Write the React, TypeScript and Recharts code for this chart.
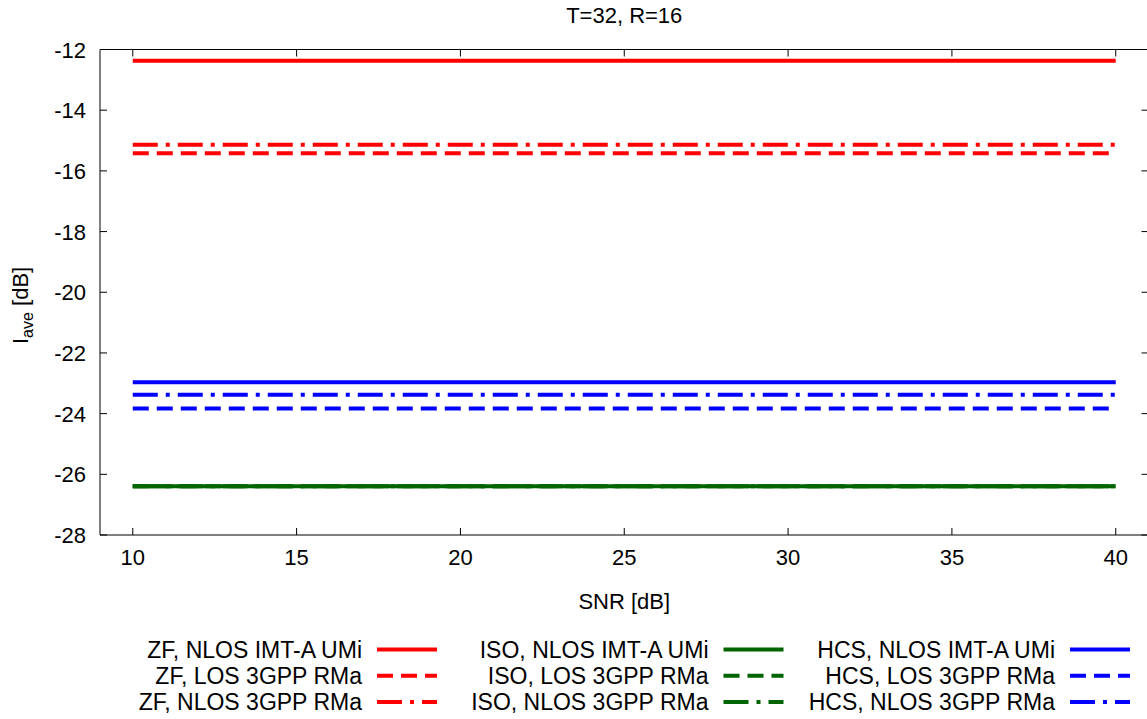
import { LineChart, Line, XAxis, YAxis, Label } from 'recharts'

const snr = [10, 15, 20, 25, 30, 35, 40]
const zfNlosUmi = [-12.37, -12.37, -12.37, -12.37, -12.37, -12.37, -12.37]
const zfLosRma = [-15.42, -15.42, -15.42, -15.42, -15.42, -15.42, -15.42]
const zfNlosRma = [-15.14, -15.14, -15.14, -15.14, -15.14, -15.14, -15.14]
const isoNlosUmi = [-26.39, -26.39, -26.39, -26.39, -26.39, -26.39, -26.39]
const isoLosRma = [-26.39, -26.39, -26.39, -26.39, -26.39, -26.39, -26.39]
const isoNlosRma = [-26.39, -26.39, -26.39, -26.39, -26.39, -26.39, -26.39]
const hcsNlosUmi = [-22.97, -22.97, -22.97, -22.97, -22.97, -22.97, -22.97]
const hcsLosRma = [-23.83, -23.83, -23.83, -23.83, -23.83, -23.83, -23.83]
const hcsNlosRma = [-23.38, -23.38, -23.38, -23.38, -23.38, -23.38, -23.38]

const xTicks = [10, 15, 20, 25, 30, 35, 40]
const yTicks = [-28, -26, -24, -22, -20, -18, -16, -14, -12]

const FONT = '"Liberation Sans", Arial, sans-serif'
const DASHED = '16 8'
const DASHDOT = '25 8 4 8'

const series = [
  { key: 'zfNlosUmi', name: 'ZF, NLOS IMT-A UMi', color: '#ff0000', dash: undefined, values: zfNlosUmi },
  { key: 'zfLosRma', name: 'ZF, LOS 3GPP RMa', color: '#ff0000', dash: DASHED, values: zfLosRma },
  { key: 'zfNlosRma', name: 'ZF, NLOS 3GPP RMa', color: '#ff0000', dash: DASHDOT, values: zfNlosRma },
  { key: 'isoNlosUmi', name: 'ISO, NLOS IMT-A UMi', color: '#006400', dash: undefined, values: isoNlosUmi },
  { key: 'isoLosRma', name: 'ISO, LOS 3GPP RMa', color: '#006400', dash: DASHED, values: isoLosRma },
  { key: 'isoNlosRma', name: 'ISO, NLOS 3GPP RMa', color: '#006400', dash: DASHDOT, values: isoNlosRma },
  { key: 'hcsNlosUmi', name: 'HCS, NLOS IMT-A UMi', color: '#0000ff', dash: undefined, values: hcsNlosUmi },
  { key: 'hcsLosRma', name: 'HCS, LOS 3GPP RMa', color: '#0000ff', dash: DASHED, values: hcsLosRma },
  { key: 'hcsNlosRma', name: 'HCS, NLOS 3GPP RMa', color: '#0000ff', dash: DASHDOT, values: hcsNlosRma },
]

const rows = snr.map((x, i) => {
  const row: Record<string, number> = { snr: x }
  series.forEach((s) => { row[s.key] = s.values[i] })
  return row
})

// gnuplot style: ticks point inward, labels outside
function BottomTick({ x, y, payload }: any) {
  return (
    <g>
      <line x1={x} y1={y} x2={x} y2={y - 7} stroke="#000" />
      <text x={x} y={y + 30} textAnchor="middle" fontSize={22} fill="#000">{payload.value}</text>
    </g>
  )
}
function TopTick({ x, y }: any) {
  return <line x1={x} y1={y} x2={x} y2={y + 7} stroke="#000" />
}
function LeftTick({ x, y, payload }: any) {
  return (
    <g>
      <line x1={x} y1={y} x2={x + 7} y2={y} stroke="#000" />
      <text x={x - 14} y={y + 8} textAnchor="end" fontSize={22} fill="#000">{payload.value}</text>
    </g>
  )
}
function RightTick({ x, y }: any) {
  return <line x1={x} y1={y} x2={x - 7} y2={y} stroke="#000" />
}

export default function App() {
  return (
    <div style={{ position: 'absolute', left: 0, top: 0, width: 1147, height: 719, overflow: 'hidden', background: '#fff', fontFamily: FONT }}>
      <LineChart width={1160} height={719} data={rows} margin={{ top: 48.5, right: 10.5, left: 0, bottom: 0 }}>
        <XAxis
          dataKey="snr" type="number" domain={[9, 41]} ticks={xTicks} allowDataOverflow
          height={184} tickSize={0} tickMargin={0} tick={<BottomTick />} axisLine={{ stroke: '#000' }}
        >
          <Label content={({ viewBox }: any) => (
            <text x={viewBox.x + viewBox.width / 2} y={viewBox.y + 74} textAnchor="middle" fontSize={22} fill="#000">SNR [dB]</text>
          )} />
        </XAxis>
        <XAxis
          xAxisId="top" orientation="top" dataKey="snr" type="number" domain={[9, 41]} ticks={xTicks} allowDataOverflow
          height={1} tickSize={0} tickMargin={0} tick={<TopTick />} axisLine={{ stroke: '#000' }}
        >
          <Label content={({ viewBox }: any) => (
            <text x={viewBox.x + viewBox.width / 2} y={viewBox.y + viewBox.height - 26.5} textAnchor="middle" fontSize={22} fill="#000">T=32, R=16</text>
          )} />
        </XAxis>
        <YAxis
          type="number" domain={[-28, -12]} ticks={yTicks} allowDataOverflow
          width={100} tickSize={0} tickMargin={0} tick={<LeftTick />} axisLine={{ stroke: '#000' }}
        >
          <Label content={({ viewBox }: any) => (
            <text x={viewBox.x + 28} y={344} transform={`rotate(-90, ${viewBox.x + 28}, 344)`} textAnchor="start" fontSize={22} fill="#000">
              I<tspan fontSize={16} dy={5}>ave</tspan><tspan dy={-5}> [dB]</tspan>
            </text>
          )} />
        </YAxis>
        <YAxis
          yAxisId="right" orientation="right" type="number" domain={[-28, -12]} ticks={yTicks} allowDataOverflow
          width={1} tickSize={0} tickMargin={0} tick={<RightTick />} axisLine={{ stroke: '#000' }}
        />
        {/* invisible series so the mirrored top/right axes get drawn */}
        <Line
          xAxisId="top" yAxisId="right" dataKey="zfNlosUmi" stroke="none" dot={false} activeDot={false}
          legendType="none" isAnimationActive={false}
        />
        {series.map((s) => (
          <Line
            key={s.key} dataKey={s.key} name={s.name} type="linear" stroke={s.color} strokeWidth={4}
            strokeDasharray={s.dash} dot={false} activeDot={false} isAnimationActive={false}
          />
        ))}
      </LineChart>
      <svg width={1147} height={719} style={{ position: 'absolute', left: 0, top: 0, pointerEvents: 'none' }}>
        {series.map((s, i) => {
          const col = Math.floor(i / 3)
          const row = i % 3
          const textRight = 362 + col * 346.5
          const cy = 649.5 + row * 26.2
          return (
            <g key={s.key}>
              <text x={textRight} y={cy + 8} textAnchor="end" fontSize={23} fill="#000">{s.name}</text>
              <line x1={textRight + 15} x2={textRight + 75} y1={cy} y2={cy} stroke={s.color} strokeWidth={4} strokeDasharray={s.dash} />
            </g>
          )
        })}
      </svg>
    </div>
  )
}
